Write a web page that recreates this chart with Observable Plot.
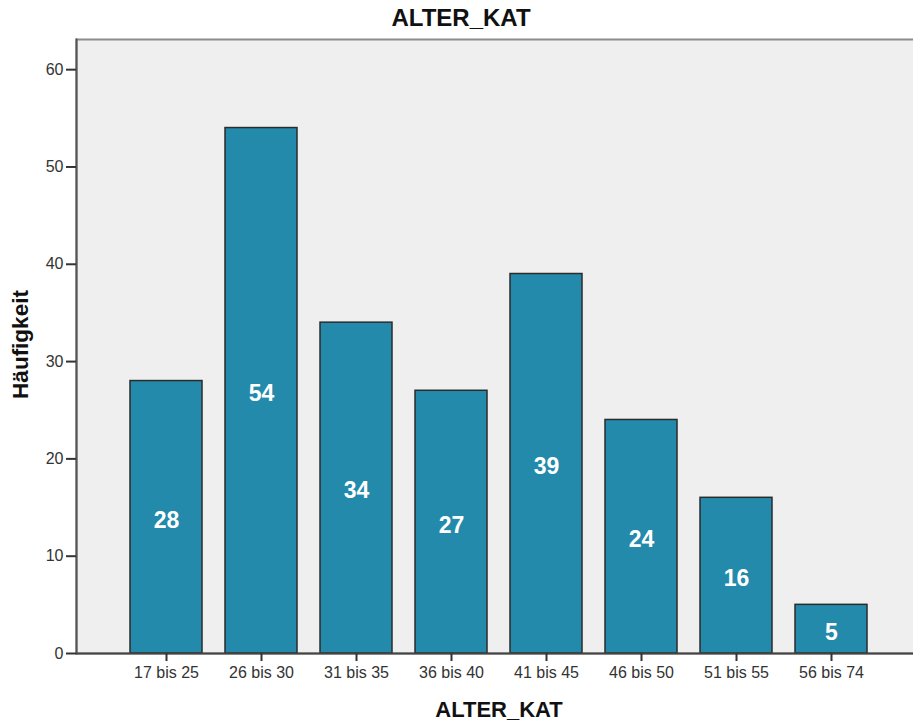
<!DOCTYPE html>
<html>
<head>
<meta charset="utf-8">
<script src="https://cdn.jsdelivr.net/npm/d3@7"></script>
<script src="https://cdn.jsdelivr.net/npm/@observablehq/plot@0.6"></script>
<style>
  html, body { margin: 0; padding: 0; background: #fff; }
  svg { display: block; }
</style>
</head>
<body>
<div id="chart"></div>
<script>
// Age groups and their counts
const categories = ["17 bis 25", "26 bis 30", "31 bis 35", "36 bis 40", "41 bis 45", "46 bis 50", "51 bis 55", "56 bis 74"];
const counts = [28, 54, 34, 27, 39, 24, 16, 5];
const yTicks = [0, 10, 20, 30, 40, 50, 60];
const chartTitle = "ALTER_KAT";
const xTitle = "ALTER_KAT";
const yTitle = "Häufigkeit";

const data = categories.map((c, i) => ({category: c, count: counts[i]}));

const font = "'Liberation Sans', Arial, sans-serif";

const chart = Plot.plot({
  width: 913,
  height: 722,
  marginTop: 39,
  marginBottom: 69,
  marginLeft: 76,
  marginRight: 0,
  style: {fontFamily: font, fontSize: "16px", color: "#222", background: "#fff", overflow: "visible"},
  x: {domain: categories, range: [118, 880], paddingInner: 0.24, paddingOuter: 0.12},
  y: {domain: [0, 63.1]},
  marks: [
    Plot.frame({fill: "#efefef", stroke: "#8c8c8c", strokeWidth: 2, insetRight: -3}),
    Plot.frame({anchor: "left", stroke: "#555", strokeWidth: 2}),
    Plot.barY(data, {x: "category", y: "count", fill: "#238aab", stroke: "#2b2b2b", strokeWidth: 1.5}),
    Plot.ruleY([0], {stroke: "#444", strokeWidth: 2}),
    Plot.text(data, {x: "category", y: d => d.count / 2, text: d => String(d.count), fill: "#fff",
      fontSize: 23, fontWeight: "bold", dy: 3}),
    Plot.axisY({ticks: yTicks, tickSize: 10, tickPadding: 3, label: null, stroke: "#333", strokeWidth: 2, fontSize: 16, fill: "#333"}),
    Plot.axisX({tickSize: 8, tickPadding: 5, label: null, stroke: "#333", strokeWidth: 2, fontSize: 16, fill: "#333"}),
    Plot.text([chartTitle], {frameAnchor: "top", lineAnchor: "middle", dx: -34, dy: -21, fontSize: 24, fontWeight: "bold", fill: "#111"}),
    Plot.text([xTitle], {frameAnchor: "bottom", lineAnchor: "middle", dx: 4, dy: 56, fontSize: 22, fontWeight: "bold", fill: "#111"}),
    Plot.text([yTitle], {frameAnchor: "left", textAnchor: "middle", dx: -56, dy: -2, rotate: -90, fontSize: 22.5, fontWeight: "bold", fill: "#111"})
  ]
});

document.getElementById("chart").appendChild(chart);
</script>
</body>
</html>
